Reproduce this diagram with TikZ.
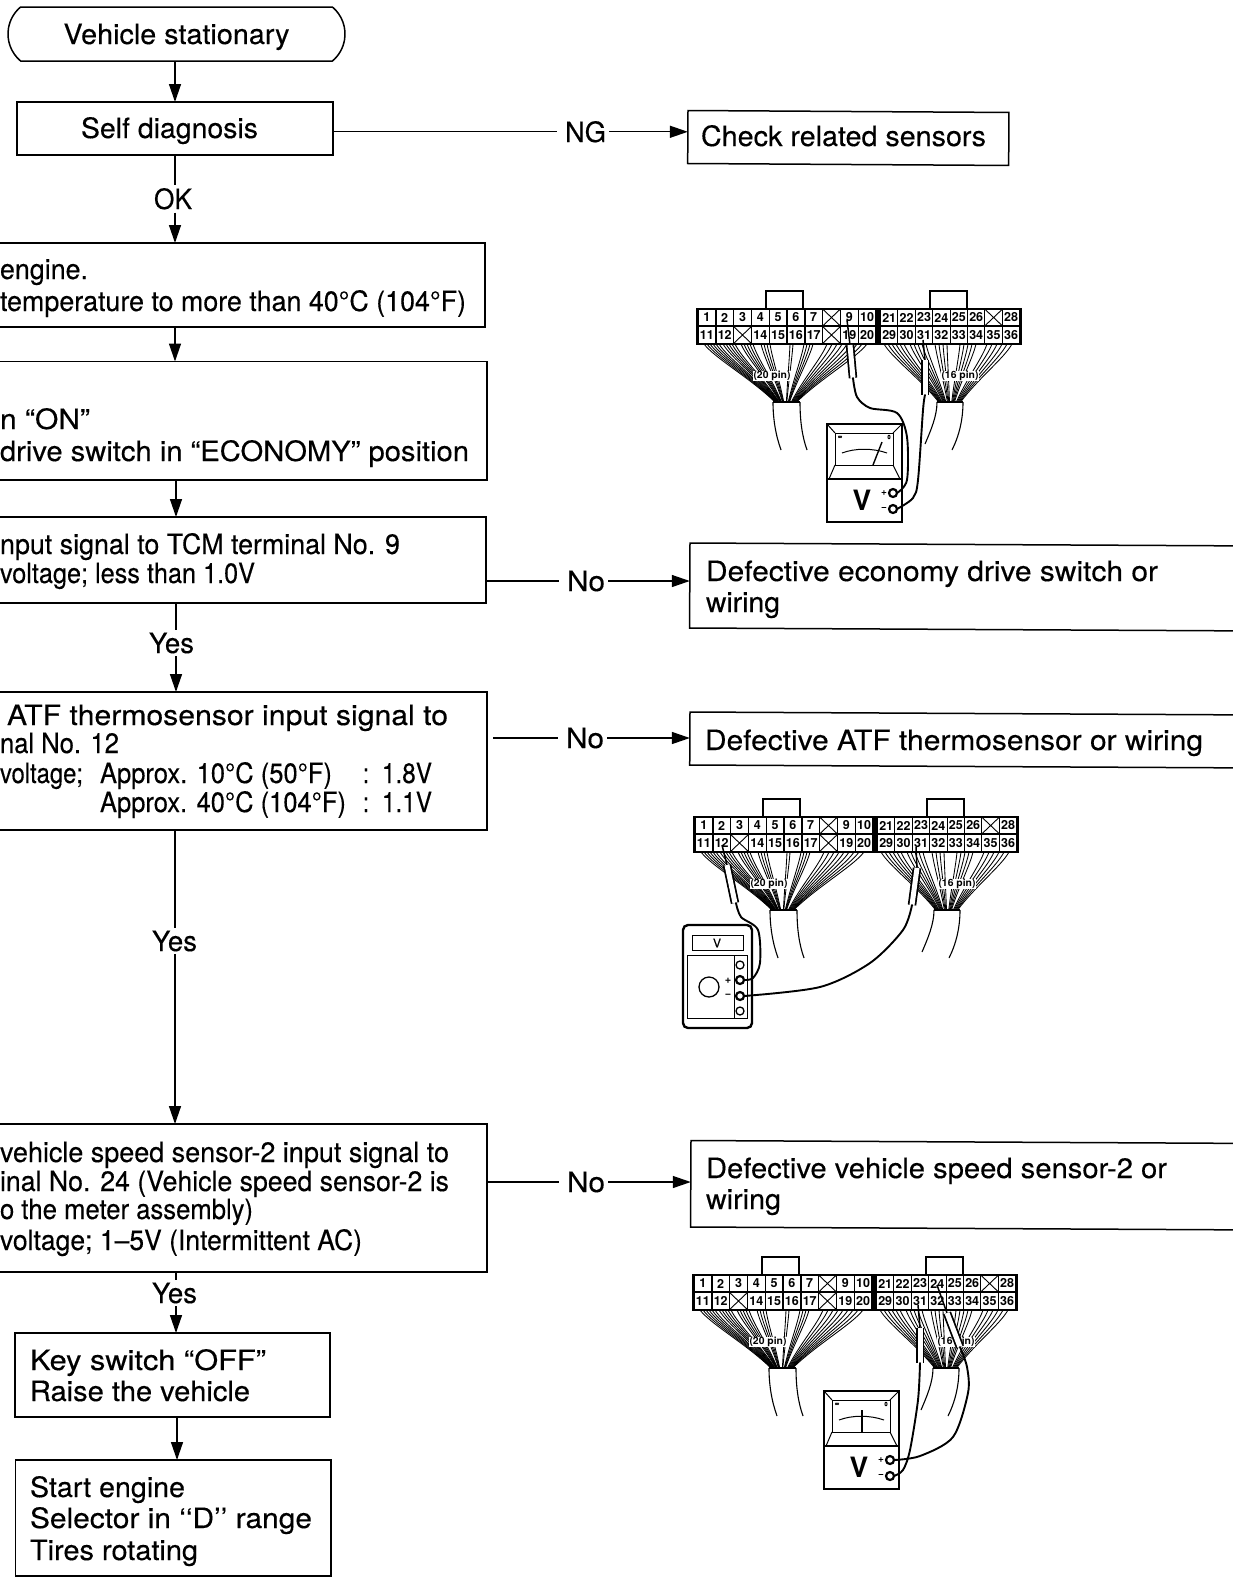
\documentclass[tikz,border=0pt]{standalone}
\usepackage{fontspec}
\setmainfont{TeX Gyre Heros}[FakeBold=0.3,BoldFeatures={FakeBold=0}]
\usetikzlibrary{arrows.meta,shapes.misc,calc}
\tikzset{
  flow/.style={line width=1.4pt,draw=black},
  arr/.style={flow,-{Triangle[length=18pt,width=12pt]}},
  boxn/.style={draw=black,line width=1.5pt,fill=white,inner sep=0pt,outer sep=0pt,anchor=north west},
  tline/.style={inner sep=0pt,outer sep=0pt,anchor=base west,font=\fontsize{28}{30}\selectfont},
  lab/.style={inner sep=3pt,outer sep=0pt,anchor=base,font=\fontsize{28}{30}\selectfont},
  wire/.style={line width=0.85pt,draw=black},
  cellnode/.style={fill=white,inner sep=0pt,outer sep=0pt,minimum width=16.4pt,minimum height=15.6pt,font=\bfseries\fontsize{12.5}{12.5}\selectfont},
  xline/.style={line width=0.9pt,draw=black},
  lead/.style={line width=1.9pt,draw=black,line cap=round},
  term/.style={circle,draw=black,line width=2.2pt,fill=white,minimum size=8pt,inner sep=0pt,outer sep=0pt},
  mline/.style={line width=1pt,draw=black},
  pinlab/.style={fill=white,inner sep=0.5pt,font=\bfseries\fontsize{10}{10}\selectfont}
}
\newcommand{\tl}[5]{\node[tline] (#1) at (#2,#3) {\resizebox{#4pt}{\height}{#5}};}
\newcommand{\lb}[5]{\node[lab] (#1) at (#2,#3) {\resizebox{#4pt}{\height}{#5}};}
\newcommand{\bx}[6][]{\pgfmathsetmacro{\bw}{#5-#3}\pgfmathsetmacro{\bh}{#6-#4}%
  \node[boxn,minimum width=\bw pt,minimum height=\bh pt,#1] (#2) at (#3,#4) {};}
% connector pair, local origin = top-left of the block
\newcommand{\connpair}[3]{%
\begin{scope}[shift={(#2,#3)}]
  \foreach \xs in {7,10,13,16,19,22,26,29,32,35,38,44,47,50,53,56,64,67,70,73,93,96,107,110,113,116,130,135,140,145,150,155,160,165,170}{
    \pgfmathsetmacro{\xe}{77+\xs/180*24}
    \draw[wire] (\xs,36) .. controls ({\xs+0.15*(\xe-\xs)},50) and ({\xe-0.35*(\xe-\xs)},70) .. (\xe,94);}
  \foreach \xs in {187,191,195,199,203,207,213,217,221,225,229,238,242,246,250,263,267,271,275,279,290,295,300,305,310,315}{
    \pgfmathsetmacro{\xe}{241+(\xs-183)/140*24}
    \draw[wire] (\xs,36) .. controls ({\xs+0.15*(\xe-\xs)},50) and ({\xe-0.35*(\xe-\xs)},70) .. (\xe,94);}
  \draw[wire,line width=1.1pt] (76,94) .. controls (76,112) and (79,128) .. (84,142);
  \draw[wire,line width=1.1pt] (103,94) .. controls (103,112) and (105,128) .. (110,142);
  \draw[wire,line width=1.1pt] (240,94) .. controls (240,108) and (234,122) .. (228,136);
  \draw[wire,line width=1.1pt] (266,94) .. controls (266,112) and (262,128) .. (255,142);
  \draw[wire,line width=1.1pt] (76,94) -- (103,94) (240,94) -- (266,94);
  \node[pinlab] (#1pa) at (75,68) {\resizebox{37pt}{\height}{(20 pin)}};
  \node[pinlab] (#1pb) at (263,68) {\resizebox{37pt}{\height}{(16 pin)}};
  \draw[line width=2.4pt,fill=white] (69,0) -- (69,-17) -- (106,-17) -- (106,0);
  \draw[line width=2.4pt,fill=white] (233,0) -- (233,-17) -- (270,-17) -- (270,0);
  \fill[black] (-1,-0.5) rectangle (325,37);
  \foreach \cv [count=\i] in {1,2,3,4,5,6,7,0,9,10}{
    \node[cellnode] (#1a\i) at ({1+(\i-.5)*17.8},9.5) {\ifnum\cv>0 \cv\fi};
    \ifnum\cv=0 \draw[xline] (#1a\i.north west) -- (#1a\i.south east) (#1a\i.north east) -- (#1a\i.south west);\fi}
  \foreach \cv [count=\i] in {11,12,0,14,15,16,17,0,19,20}{
    \node[cellnode] (#1b\i) at ({1+(\i-.5)*17.8},27) {\ifnum\cv>0 \cv\fi};
    \ifnum\cv=0 \draw[xline] (#1b\i.north west) -- (#1b\i.south east) (#1b\i.north east) -- (#1b\i.south west);\fi}
  \foreach \cv [count=\i] in {21,22,23,24,25,26,0,28}{
    \node[cellnode] (#1c\i) at ({183.5+(\i-.5)*17.4},9.5) {\ifnum\cv>0 \cv\fi};
    \ifnum\cv=0 \draw[xline] (#1c\i.north west) -- (#1c\i.south east) (#1c\i.north east) -- (#1c\i.south west);\fi}
  \foreach \cv [count=\i] in {29,30,31,32,33,34,35,36}{
    \node[cellnode] (#1d\i) at ({183.5+(\i-.5)*17.4},27) {\cv};}
\end{scope}}
% probe: tip, neck end, body end
\newcommand{\probe}[3]{%
  \draw[line width=1.5pt] #1 -- #2;
  \draw[line width=8.5pt] #2 -- #3;
  \draw[line width=5pt,white] #2 -- #3;}
% analog meter
\newcommand{\ameter}[4]{%
\begin{scope}[shift={(#2,#3)}]
  \draw[line width=2.4pt,fill=white] (0,0) rectangle (75,98);
  \draw[mline] (8,9) rectangle (66,41);
  \draw[mline] (0,0) -- (8,9) (75,0) -- (66,9) (8,41) -- (2,55) (66,41) -- (73,55);
  \draw[line width=1.5pt] (0,55) -- (75,55);
  \draw[mline] (15,29) .. controls (28,24) and (46,24) .. (60,29);
  \draw[line width=1.4pt] #4;
  \node[inner sep=0pt,font=\fontsize{6}{6}\selectfont] (#1inf) at (13,13) {∞};
  \node[inner sep=0pt,font=\fontsize{6}{6}\selectfont] (#1zero) at (62,13) {0};
  \node[inner sep=0pt,font=\bfseries\fontsize{28}{28}\selectfont] (#1v) at (35,76) {V};
  \node[inner sep=0pt,font=\bfseries\fontsize{10}{10}\selectfont] (#1pl) at (57,69) {+};
  \node[inner sep=0pt,font=\bfseries\fontsize{10}{10}\selectfont] (#1mi) at (57,85) {−};
  \node[term] (#1p) at (66,69) {};
  \node[term] (#1m) at (66,85) {};
\end{scope}}
\begin{document}
\begin{tikzpicture}[x=1pt,y=-1pt]
\useasboundingbox (0,0) rectangle (1233,1577);
\fill[white] (0,0) rectangle (1233,1577);

% ---- left column
\coordinate (sa) at (175,0);
\coordinate (sb) at (176,0);
\coordinate (sc) at (177,0);
\node[draw=black,line width=1.5pt,rounded rectangle,rounded rectangle arc length=100,minimum width=337pt,minimum height=54pt,inner sep=0pt,outer sep=0pt,font=\fontsize{28}{30}\selectfont] (start) at (176.5,34) {\raisebox{-10pt}[14pt][14pt]{\resizebox{226pt}{\height}{Vehicle stationary}}};
\bx{selfd}{17}{102}{333}{155}
\tl{selft}{81}{138}{177}{Self diagnosis}
\bx{warm}{-20}{243}{485}{327}
\tl{warmta}{0}{279}{88}{engine.}
\tl{warmtb}{0}{311}{466}{temperature to more than 40°C (104°F)}
\bx{setup}{-20}{361.5}{487}{480}
\tl{setupta}{0}{429}{90}{n “ON”}
\tl{setuptb}{0}{461}{469}{drive switch in “ECONOMY” position}
\bx{econ}{-20}{517}{486}{603}
\tl{econta}{0}{554}{400}{nput signal to TCM terminal No. 9}
\tl{econtb}{0}{583}{255}{voltage; less than 1.0V}
\bx{atf}{-20}{692}{487}{830}
\tl{atfta}{7}{725}{441}{ATF thermosensor input signal to}
\tl{atftb}{0}{753}{119}{nal No. 12}
\tl{atftc}{0}{783}{83}{voltage;}
\tl{atftd}{100}{783}{232}{Approx. 10°C (50°F)}
\tl{atfte}{363}{783}{6}{:}
\tl{atftf}{382}{783}{50}{1.8V}
\tl{atftg}{100}{812}{246}{Approx. 40°C (104°F)}
\tl{atfth}{363}{812}{6}{:}
\tl{atfti}{382}{812}{50}{1.1V}
\bx{speed}{-20}{1124}{487}{1272}
\tl{speedta}{0}{1162}{449}{vehicle speed sensor-2 input signal to}
\tl{speedtb}{0}{1191}{449}{inal No. 24 (Vehicle speed sensor-2 is}
\tl{speedtc}{0}{1219}{253}{o the meter assembly)}
\tl{speedtd}{0}{1250}{362}{voltage;  1–5V (Intermittent AC)}
\bx{raise}{15}{1333}{330}{1417}
\tl{raiseta}{30}{1370}{236}{Key switch “OFF”}
\tl{raisetb}{30}{1401}{220}{Raise the vehicle}
\bx{run}{15.5}{1460}{331}{1576}
\tl{runta}{30}{1497}{155}{Start engine}
\tl{runtb}{30}{1528}{282}{Selector in ‘‘D’’ range}
\tl{runtc}{30}{1560}{168}{Tires rotating}

% ---- right column
\bx[rotate=-0.35]{check}{688}{110.5}{1009}{163.5}
\tl{checkt}{701}{146}{285}{Check related sensors}
\bx[rotate=-0.3]{fecon}{690}{543}{1260}{628}
\tl{fecona}{706}{581}{452}{Defective economy drive switch or}
\tl{feconb}{706}{612}{74}{wiring}
\bx[rotate=-0.3]{fatf}{690}{712}{1260}{765}
\tl{fatft}{705}{750}{498}{Defective ATF thermosensor or wiring}
\bx[rotate=-0.3]{fspeed}{691}{1140.5}{1260}{1227}
\tl{fspeeda}{706}{1178}{461}{Defective vehicle speed sensor-2 or}
\tl{fspeedb}{706}{1209}{75}{wiring}

% ---- labels
\lb{ok}{173}{209}{38}{OK}
\lb{yesa}{171.5}{653}{45}{Yes}
\lb{yesb}{174.5}{951}{45}{Yes}
\lb{yesc}{174.5}{1303}{45}{Yes}
\lb{ng}{585.5}{142}{41}{NG}
\lb{noa}{586}{591}{38}{No}
\lb{nob}{585}{748}{38}{No}
\lb{noc}{586}{1192}{38}{No}

% ---- connectors
\draw[arr] (sa |- start.south) -- (sa |- selfd.north);
\draw[flow] (sa |- selfd.south) -- (sa |- ok.north);
\draw[arr] (sa |- ok.south) -- (sa |- warm.north);
\draw[arr] (sa |- warm.south) -- (sa |- setup.north);
\draw[arr] (sb |- setup.south) -- (sb |- econ.north);
\draw[flow] (sb |- econ.south) -- (sb |- yesa.north);
\draw[arr] (sb |- yesa.south) -- (sb |- atf.north);
\draw[flow] (sa |- atf.south) -- (sa |- yesb.north);
\draw[arr] (sa |- yesb.south) -- (sa |- speed.north);
\draw[flow] (sb |- speed.south) -- (sb |- yesc.north);
\draw[arr] (sb |- yesc.south) -- (sb |- raise.north);
\draw[arr] (sc |- raise.south) -- (sc |- run.north);
\draw[flow] (selfd.east |- ng) -- ([xshift=-5pt]ng.west);
\draw[arr] (ng.east) -- (ng.east -| check.west);
\draw[flow] (econ.east |- noa) -- ([xshift=-5pt]noa.west);
\draw[arr] (noa.east) -- (noa.east -| fecon.west);
\draw[flow] ([xshift=6pt]atf.east |- nob) -- ([xshift=-5pt]nob.west);
\draw[arr] (nob.east) -- (nob.east -| fatf.west);
\draw[flow] (speed.east |- noc) -- ([xshift=-5pt]noc.west);
\draw[arr] (noc.east) -- (noc.east -| fspeed.west);

% ---- diagram 1
\connpair{da}{697}{308}
\ameter{ma}{827}{424}{(46,41) -- (55,18)}
\probe{(847,320)}{(850,345)}{(853,378)}
\probe{(923,340)}{(925,360)}{(925,395)}
\draw[lead] plot[smooth] coordinates {(853,378) (857,397) (870,408) (897,413) (907,437) (907,480) (map.east)};
\draw[lead] plot[smooth] coordinates {(925,395) (923,410) (918,480) (913,498) (mam.east)};

% ---- diagram 2
\connpair{db}{694}{816}
\draw[line width=2.4pt,fill=white,rounded corners=5pt] (683,925) rectangle (752,1028);
\draw[mline] (692,935) rectangle (743,950);
\node[inner sep=0pt,font=\fontsize{12}{12}\selectfont] (mbv) at (717,943) {V};
\draw[mline] (687,955) rectangle (747,1018) (734,955) -- (734,1018);
\node[circle,draw=black,line width=1.3pt,minimum size=20pt,inner sep=0pt] (mbdial) at (709,987) {};
\node[inner sep=0pt,font=\bfseries\fontsize{11}{11}\selectfont] (mbpl) at (728,981) {+};
\node[inner sep=0pt,font=\bfseries\fontsize{11}{11}\selectfont] (mbmi) at (728,996) {−};
\node[term,line width=1.3pt] (mbt) at (740,965) {};
\node[term] (mbp) at (740,980) {};
\node[term] (mbm) at (740,996) {};
\node[term,line width=1.3pt] (mbb) at (740,1011) {};
\probe{(722,845)}{(727,865)}{(735,903)}
\probe{(916,847)}{(917,868)}{(912,905)}
\draw[lead] plot[smooth] coordinates {(736,903) (741,917) (758,930) (760,963) (753,978) (mbp.east)};
\draw[lead] plot[smooth] coordinates {(912,905) (903,930) (870,963) (820,987) (mbm.east)};

% ---- diagram 3
\connpair{dc}{693}{1274}
\ameter{mc}{824}{1391}{(38,41) -- (38,19)}
\probe{(918,1305)}{(920,1328)}{(920,1363)}
\probe{(937,1285)}{(947,1313)}{(960,1347)}
\draw[lead] plot[smooth] coordinates {(920,1363) (918,1400) (910,1450) (903,1470) (mcm.east)};
\draw[lead] plot[smooth] coordinates {(960,1347) (967,1367) (968,1393) (953,1437) (920,1456) (mcp.east)};
\end{tikzpicture}
\end{document}
